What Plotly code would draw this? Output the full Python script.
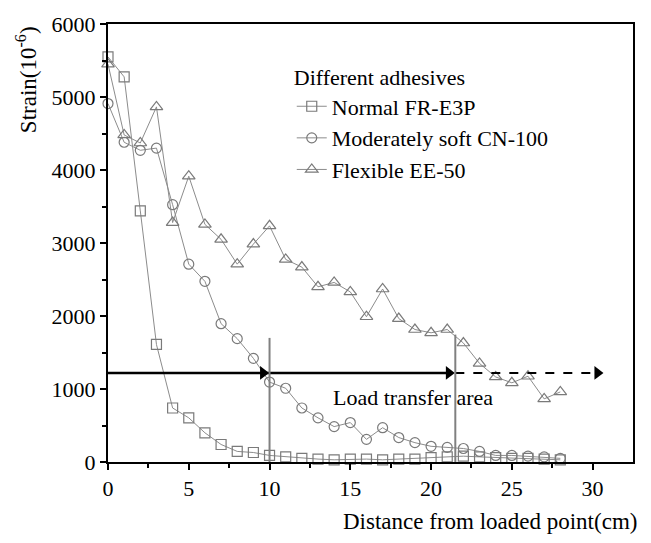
import plotly.graph_objects as go

x = list(range(0, 29))
normal_fr_e3p = [5550, 5276, 3440, 1610, 740, 605, 400, 240, 145, 130, 90,
                 70, 50, 40, 30, 40, 40, 30, 40, 40, 60, 70, 80, 70, 60, 50, 50, 40, 30]
soft_cn100 = [4910, 4380, 4270, 4300, 3525, 2710, 2475, 1895, 1690, 1420, 1095,
              1010, 740, 605, 485, 540, 310, 470, 335, 265, 215, 200, 185, 145, 90, 90, 80, 70, 50]
flexible_ee50 = [5450, 4480, 4370, 4865, 3280, 3915, 3255, 3050, 2710, 2985, 3235,
                 2775, 2670, 2400, 2460, 2330, 1990, 2370, 1965, 1815, 1770, 1815, 1630,
                 1350, 1165, 1085, 1175, 865, 960]

names = ["Normal FR-E3P", "Moderately soft CN-100", "Flexible EE-50"]
symbols = ["square-open", "circle-open", "triangle-up-open"]
series = [normal_fr_e3p, soft_cn100, flexible_ee50]

arrow_y = 1220
boundary_x = [10, 21.5]
boundary_top = [1700, 1745]
dash_end = 30.7
head_len = 0.4
label_text = "Load transfer area"
label_pos = (18.9, 880)

FONT = "Liberation Serif, Times New Roman, serif"
LINE = "#8c8c8c"

fig = go.Figure()
for i, (nm, sym, ys) in enumerate(zip(names, symbols, series)):
    fig.add_trace(go.Scatter(
        x=x, y=ys, name=nm, mode="lines+markers", legendgroup=f"g{i}",
        line=dict(color=LINE, width=1),
        marker=dict(symbol=sym, size=10 if sym != "triangle-up-open" else 11,
                    color="#7a7a7a", line=dict(width=1.2, color="#7a7a7a")),
        cliponaxis=False,
    ))

# vertical boundary lines
for bx, bt in zip(boundary_x, boundary_top):
    fig.add_shape(type="line", x0=bx, x1=bx, y0=0, y1=bt, xref="x", yref="y",
                  line=dict(color="#808080", width=2))

# solid arrow shafts
fig.add_trace(go.Scatter(x=[0, boundary_x[1] - head_len], y=[arrow_y, arrow_y], mode="lines",
                         line=dict(color="black", width=2.5), showlegend=False,
                         hoverinfo="skip", cliponaxis=False))
# dashed continuation
fig.add_trace(go.Scatter(x=[boundary_x[1], dash_end - head_len], y=[arrow_y, arrow_y], mode="lines",
                         line=dict(color="black", width=2, dash="dash"), showlegend=False,
                         hoverinfo="skip"))
# arrowheads
heads = [boundary_x[0], boundary_x[1], dash_end]
fig.add_trace(go.Scatter(x=[h - head_len for h in heads], y=[arrow_y] * 3, mode="markers",
                         marker=dict(symbol="triangle-right", size=12, color="black"),
                         showlegend=False, hoverinfo="skip"))

fig.add_annotation(x=label_pos[0], y=label_pos[1], xref="x", yref="y", text=label_text,
                   showarrow=False, font=dict(family=FONT, size=22, color="black"))

# axis titles
fig.add_annotation(xref="paper", yref="paper", x=1.012, xanchor="right", y=-0.135, yanchor="middle",
                   text="Distance from loaded point(cm)", showarrow=False,
                   font=dict(family=FONT, size=23, color="black"))
fig.add_annotation(xref="paper", yref="paper", x=-0.155, xanchor="center", y=1.0, yanchor="top",
                   text="Strain(10<sup>-6</sup>)", textangle=-90, showarrow=False,
                   font=dict(family=FONT, size=23, color="black"))

fig.update_layout(
    width=651, height=543,
    margin=dict(l=108, r=18, t=20, b=81),
    paper_bgcolor="white", plot_bgcolor="white",
    font=dict(family=FONT, size=22, color="black"),
    showlegend=True,
    legend=dict(
        title=dict(text="Different adhesives", font=dict(family=FONT, size=22)),
        x=0.35, y=0.925, xanchor="left", yanchor="top",
        bgcolor="rgba(0,0,0,0)", borderwidth=0,
        font=dict(family=FONT, size=22), tracegroupgap=0,
    ),
)
fig.update_xaxes(range=[0, 32.5], tickmode="array", tickvals=[0, 5, 10, 15, 20, 25, 30],
                 ticks="outside", ticklen=6, tickwidth=1.5, showgrid=False, zeroline=False,
                 showline=True, linecolor="black", linewidth=2, mirror=True,
                 minor=dict(tickvals=[2.5, 7.5, 12.5, 17.5, 22.5, 27.5], ticks="outside",
                            ticklen=4, tickwidth=1.5, tickcolor="black"),
                 tickcolor="black")
fig.update_yaxes(range=[0, 6000], tickmode="array", tickvals=[0, 1000, 2000, 3000, 4000, 5000, 6000],
                 ticks="outside", ticklen=6, tickwidth=1.5, showgrid=False, zeroline=False,
                 showline=True, linecolor="black", linewidth=2, mirror=True,
                 minor=dict(tickvals=[500, 1500, 2500, 3500, 4500, 5500], ticks="outside",
                            ticklen=4, tickwidth=1.5, tickcolor="black"),
                 tickcolor="black")

fig.write_html("out.html")
